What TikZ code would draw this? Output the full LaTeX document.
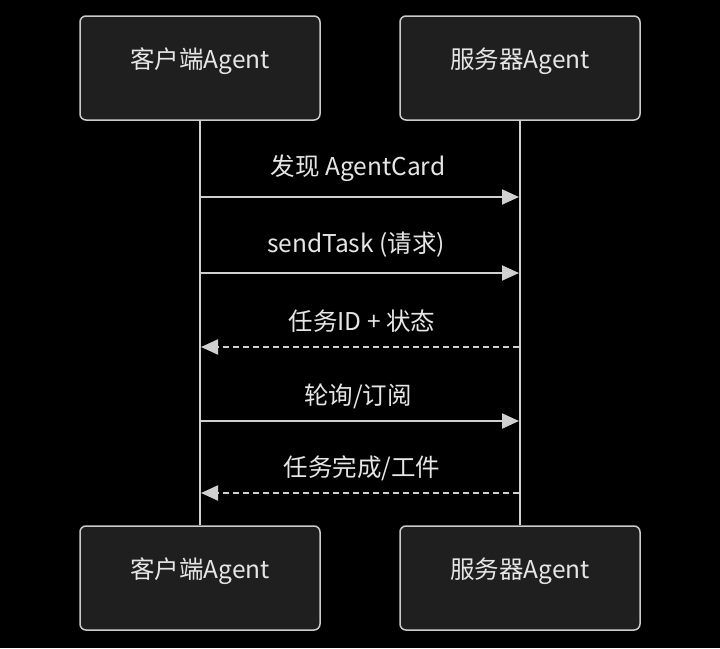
\documentclass[tikz,border=0pt]{standalone}
\usepackage{fontspec}
\setmainfont{Noto Sans CJK SC}
\usetikzlibrary{arrows.meta}
\definecolor{bg}{HTML}{000000}
\definecolor{boxfill}{HTML}{1F1F1F}
\definecolor{boxline}{HTML}{CCCCCC}
\definecolor{linec}{HTML}{D0D0D0}
\definecolor{txt}{HTML}{E6E6E6}
\tikzset{
  actor/.style={draw=boxline, fill=boxfill, line width=1.5pt, rounded corners=6pt,
    minimum width=240pt, minimum height=104pt, inner sep=0pt},
  life/.style={draw=linec, line width=2.5pt},
  msg/.style={draw=linec, line width=2pt, -{Triangle[length=17pt,width=15pt]}},
  reply/.style={msg, dash pattern=on 6pt off 4pt},
  lbl/.style={text=txt, font=\fontsize{24.5}{28}\selectfont, inner sep=0pt}
}
\begin{document}
\begin{tikzpicture}[x=1pt,y=-1pt]
\fill[bg] (0,0) rectangle (720,648);
\useasboundingbox (0,0) rectangle (720,648);
\node[actor] (c1) at (200,68) {};
\node[actor] (s1) at (520,68) {};
\node[actor] (c2) at (200,578) {};
\node[actor] (s2) at (520,578) {};
\node[lbl] (t1) at ([yshift=7pt]c1.center) {客户端Agent};
\node[lbl] (t2) at ([yshift=7pt]s1.center) {服务器Agent};
\node[lbl] (t3) at ([yshift=7pt]c2.center) {客户端Agent};
\node[lbl] (t4) at ([yshift=7pt]s2.center) {服务器Agent};
\draw[life] (c1.south) -- (c2.north);
\draw[life] (s1.south) -- (s2.north);
\coordinate (a1) at (201,197); \coordinate (b1) at (519,197);
\coordinate (a2) at (201,273); \coordinate (b2) at (519,273);
\coordinate (a3) at (201,347); \coordinate (b3) at (519,347);
\coordinate (a4) at (201,421); \coordinate (b4) at (519,421);
\coordinate (a5) at (201,493); \coordinate (b5) at (519,493);
\draw[msg] (a1) -- (b1);
\draw[msg] (a2) -- (b2);
\draw[reply] (b3) -- (a3);
\draw[msg] (a4) -- (b4);
\draw[reply] (b5) -- (a5);
\node[lbl] (l1) at (358,168) {发现 AgentCard};
\node[lbl] (l2) at (356,245) {sendTask (请求)};
\node[lbl] (l3) at (362,321) {任务ID + 状态};
\node[lbl] (l4) at (358,396) {轮询/订阅};
\node[lbl] (l5) at (362,468) {任务完成/工件};
\end{tikzpicture}
\end{document}
